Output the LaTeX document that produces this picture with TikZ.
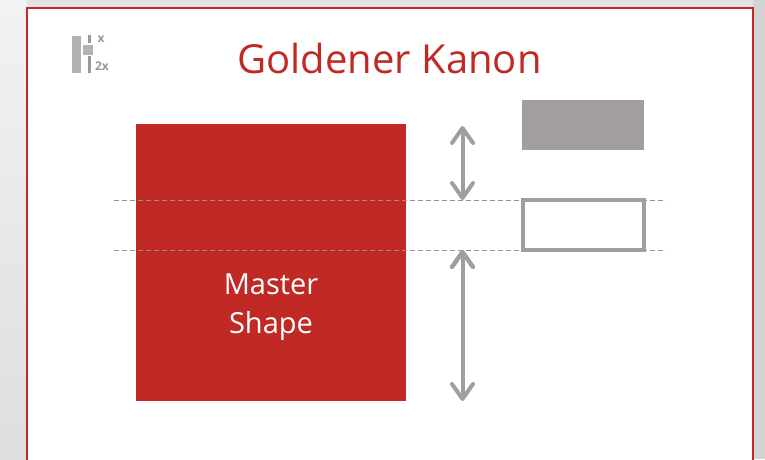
\documentclass[tikz,border=0pt]{standalone}
\usepackage{fontspec}
\setmainfont{Open Sans}
\usetikzlibrary{arrows.meta,positioning}
\definecolor{kanonred}{RGB}{192,41,36}
\definecolor{kanongray}{RGB}{163,158,158}
\definecolor{icongray}{RGB}{178,178,178}
\begin{document}
\begin{tikzpicture}[x=1pt,y=-1pt,>={Straight Barb[length=15pt,width=21pt,line width=4pt,round]}]
\tikzset{
	slide node/.style={rectangle,draw=kanonred,line width=2pt,fill=white,inner sep=0,outer sep=0,anchor=north west,minimum width=726pt,minimum height=470pt},
	master node/.style={rectangle,fill=kanonred,inner sep=0,anchor=north west,minimum width=270pt,minimum height=277pt},
	master text/.style={text=white,inner sep=0,align=center,font=\fontsize{29}{39}\selectfont},
	solid node/.style={rectangle,fill=kanongray,inner sep=0,anchor=north west,minimum width=122pt,minimum height=50pt},
	hollow node/.style={rectangle,draw=kanongray,line width=4pt,fill=white,inner sep=0,outer sep=0,anchor=north west,minimum width=121pt,minimum height=50pt},
	icon node/.style={rectangle,fill=icongray,inner sep=0,anchor=north west},
	icon text/.style={text=black!40,inner sep=0,font=\fontsize{12}{12}\selectfont\bfseries},
	guide line/.style={dash pattern=on 5pt off 3pt,draw=gray!85,line width=.7pt},
	size arrow/.style={<->,draw=kanongray,line width=4pt}
}
\useasboundingbox (0,0) rectangle (765,459);
\shade[top color=black!5,bottom color=black!13] (0,0) rectangle (27,459);
\fill[black!11] (27,0) rectangle (765,8);
\fill[black!17] (753,0) rectangle (765,459);

\node[slide node] (slide) at (27,8) {};
\node[anchor=center,inner sep=0,text=kanonred,font=\fontsize{40}{46}\selectfont] (title) at (389.5,58) {Goldener Kanon};

% icon
\node[icon node,minimum width=9pt,minimum height=37pt] (bar) at (72,36) {};
\node[icon node,minimum width=10pt,minimum height=10pt] (knob) at (83,45) {};
\node[icon node,fill=black!40,minimum width=2.5pt,minimum height=8pt] (tick) at (88,35) {};
\node[icon node,fill=black!40,minimum width=2.5pt,minimum height=17pt] (stem) at (88,56) {};
\node[icon text] (onex) at (101,39) {x};
\node[icon text] (twox) at (102,66) {2x};

% shapes
\node[master node] (master) at (136,124) {};
\node[master text] (mastertext) at (271,307) {Master\\Shape};
\node[solid node] (small) at (522,100) {};
\coordinate (g1l) at (114,200);
\coordinate (g1r) at (666,200);
\coordinate (g2l) at (114,250);
\coordinate (g2r) at (666,250);
\path[guide line] (g1l) edge (g1r)
	(g2l) edge (g2r);
\node[hollow node] (gap) at (523,200) {};

% arrows
\coordinate (a1) at (462.5,126);
\coordinate (a2) at (462.5,200);
\coordinate (a3) at (462.5,250);
\coordinate (a4) at (462.5,401);
\path[size arrow] (a1) edge (a2)
	(a3) edge (a4);
\end{tikzpicture}
\end{document}
